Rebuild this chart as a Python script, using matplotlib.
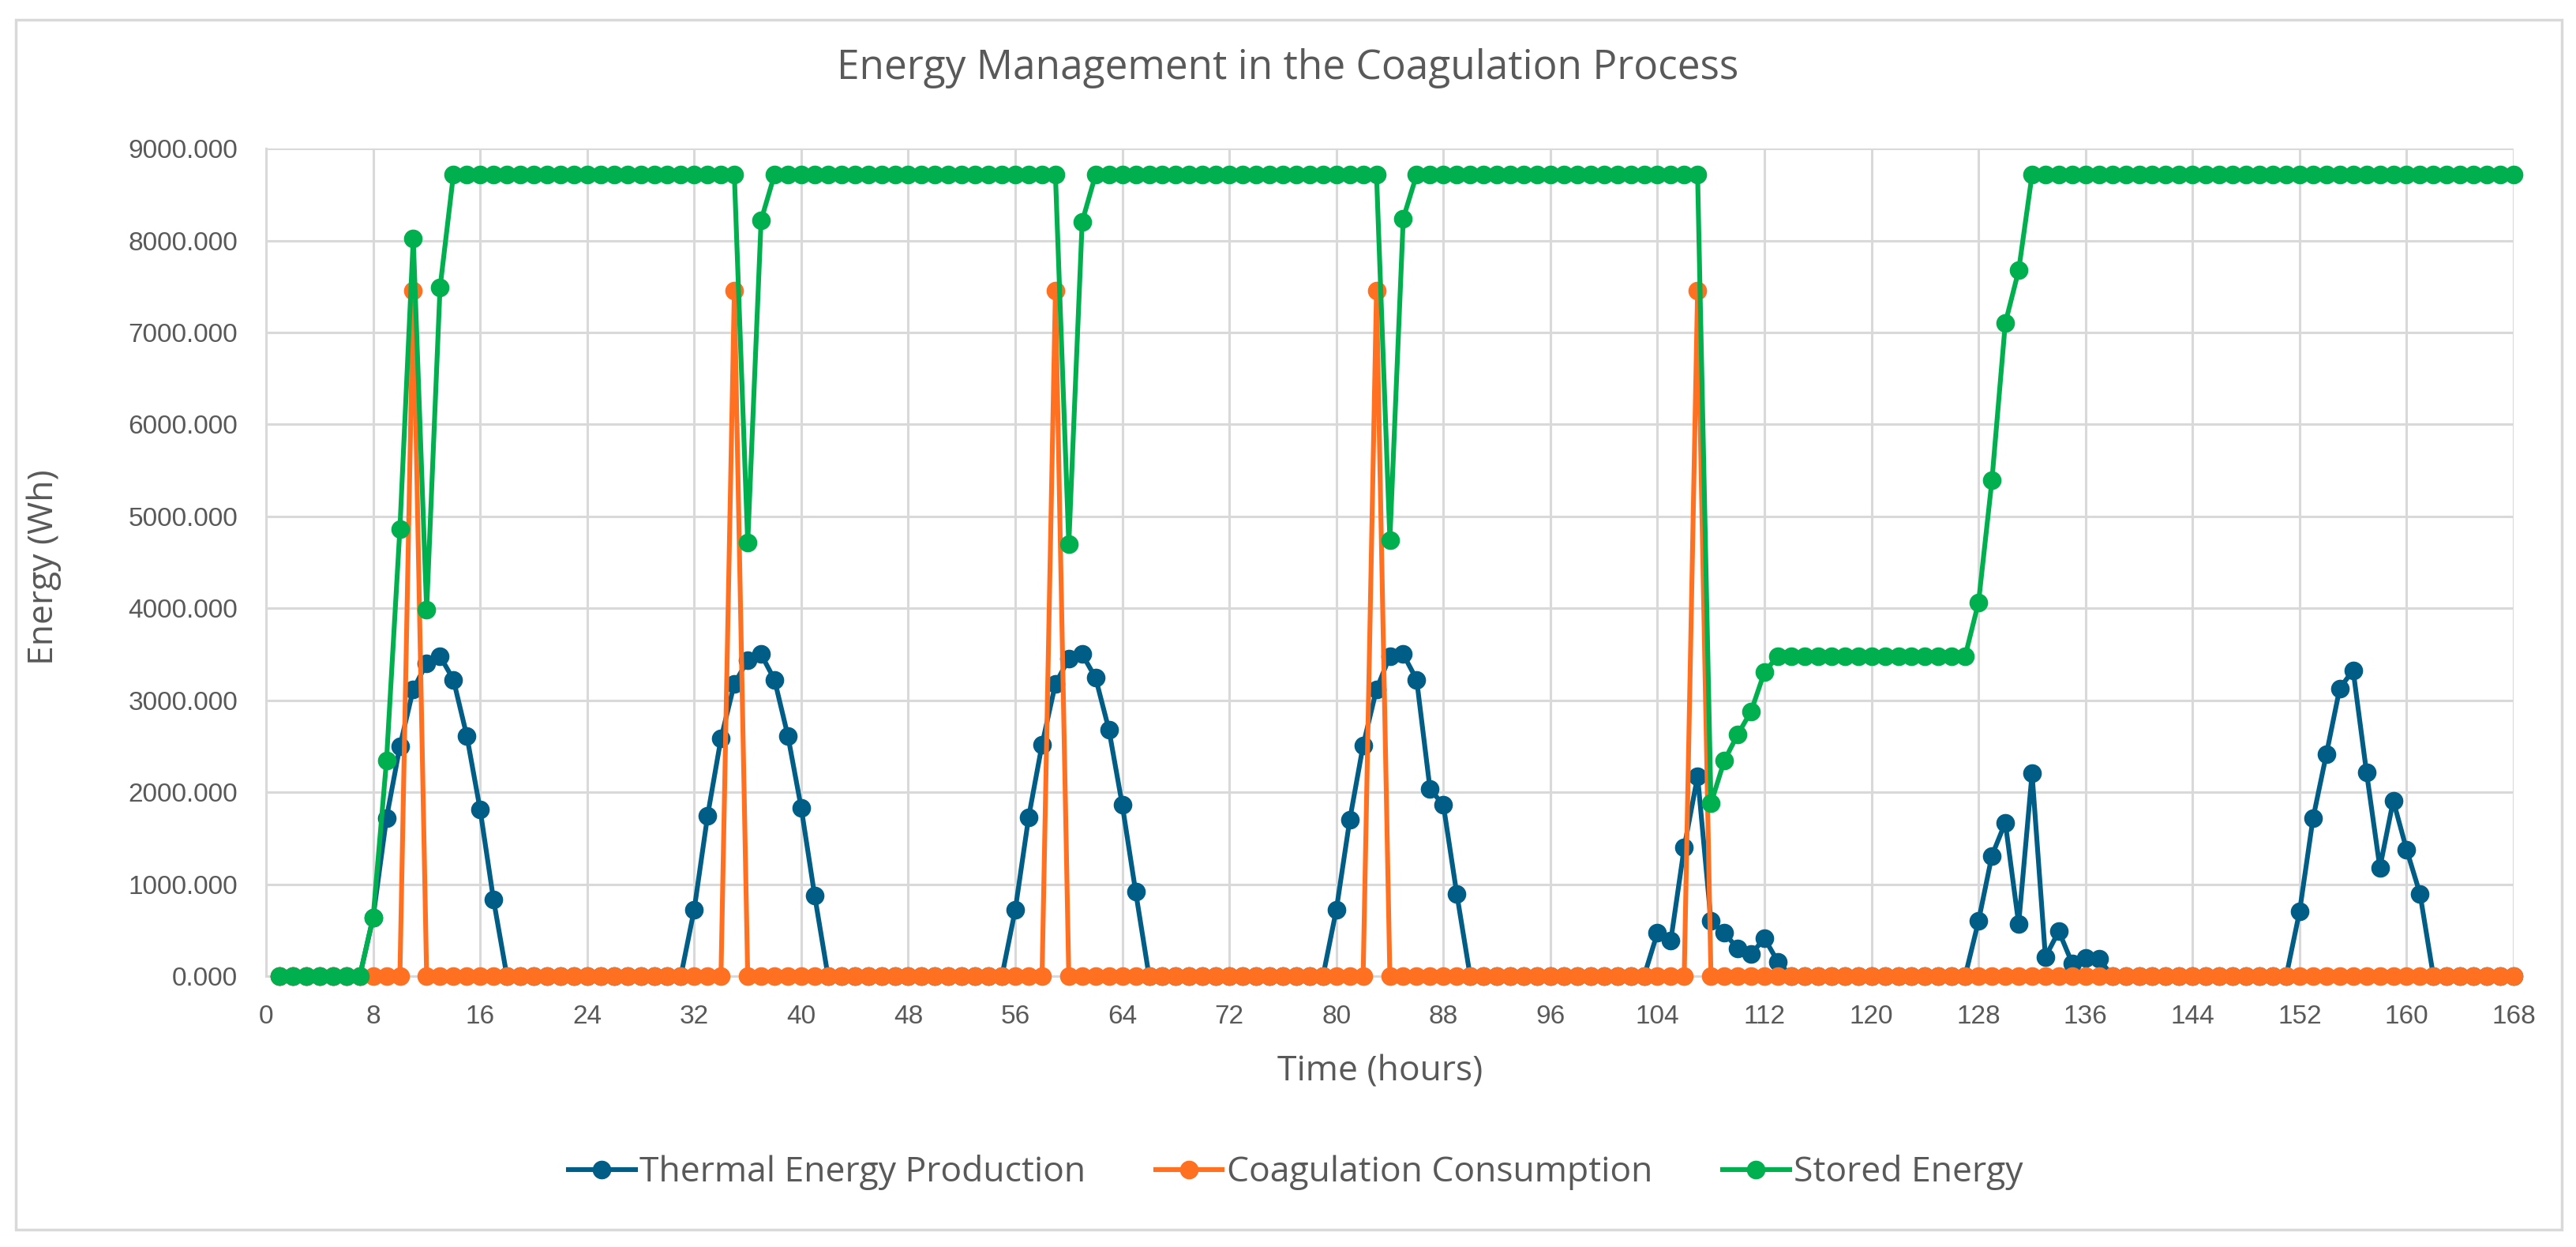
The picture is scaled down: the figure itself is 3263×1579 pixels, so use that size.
import matplotlib.pyplot as plt
from matplotlib.patches import Rectangle
from matplotlib.ticker import MultipleLocator, FormatStrFormatter

# hours 1..168, one row per day
hours = list(range(1, 169))

thermal = [
    0, 0, 0, 0, 0, 0, 0, 640, 1720, 2500, 3120, 3400, 3480, 3225, 2615, 1810, 830, 0, 0, 0, 0, 0, 0, 0,
    0, 0, 0, 0, 0, 0, 0, 725, 1745, 2585, 3180, 3435, 3500, 3225, 2615, 1830, 880, 0, 0, 0, 0, 0, 0, 0,
    0, 0, 0, 0, 0, 0, 0, 725, 1730, 2520, 3180, 3450, 3500, 3245, 2680, 1860, 915, 0, 0, 0, 0, 0, 0, 0,
    0, 0, 0, 0, 0, 0, 0, 725, 1700, 2510, 3120, 3480, 3500, 3225, 2035, 1860, 895, 0, 0, 0, 0, 0, 0, 0,
    0, 0, 0, 0, 0, 0, 0, 473, 390, 1400, 2175, 600, 470, 300, 240, 410, 158, 0, 0, 0, 0, 0, 0, 0,
    0, 0, 0, 0, 0, 0, 0, 600, 1310, 1670, 567, 2205, 208, 490, 140, 200, 190, 0, 0, 0, 0, 0, 0, 0,
    0, 0, 0, 0, 0, 0, 0, 705, 1714, 2413, 3130, 3327, 2218, 1178, 1910, 1374, 895, 0, 0, 0, 0, 0, 0, 0,
]

coagulation = [
    0, 0, 0, 0, 0, 0, 0, 0, 0, 0, 7455, 0, 0, 0, 0, 0, 0, 0, 0, 0, 0, 0, 0, 0,
    0, 0, 0, 0, 0, 0, 0, 0, 0, 0, 7455, 0, 0, 0, 0, 0, 0, 0, 0, 0, 0, 0, 0, 0,
    0, 0, 0, 0, 0, 0, 0, 0, 0, 0, 7455, 0, 0, 0, 0, 0, 0, 0, 0, 0, 0, 0, 0, 0,
    0, 0, 0, 0, 0, 0, 0, 0, 0, 0, 7455, 0, 0, 0, 0, 0, 0, 0, 0, 0, 0, 0, 0, 0,
    0, 0, 0, 0, 0, 0, 0, 0, 0, 0, 7455, 0, 0, 0, 0, 0, 0, 0, 0, 0, 0, 0, 0, 0,
    0, 0, 0, 0, 0, 0, 0, 0, 0, 0, 0, 0, 0, 0, 0, 0, 0, 0, 0, 0, 0, 0, 0, 0,
    0, 0, 0, 0, 0, 0, 0, 0, 0, 0, 0, 0, 0, 0, 0, 0, 0, 0, 0, 0, 0, 0, 0, 0,
]

stored = [
    0, 0, 0, 0, 0, 0, 0, 640, 2345, 4865, 8020, 3982, 7485, 8715, 8715, 8715, 8715, 8715, 8715, 8715, 8715, 8715, 8715, 8715,
    8715, 8715, 8715, 8715, 8715, 8715, 8715, 8715, 8715, 8715, 8715, 4713, 8220, 8715, 8715, 8715, 8715, 8715, 8715, 8715, 8715, 8715, 8715, 8715,
    8715, 8715, 8715, 8715, 8715, 8715, 8715, 8715, 8715, 8715, 8715, 4695, 8205, 8715, 8715, 8715, 8715, 8715, 8715, 8715, 8715, 8715, 8715, 8715,
    8715, 8715, 8715, 8715, 8715, 8715, 8715, 8715, 8715, 8715, 8715, 4745, 8240, 8715, 8715, 8715, 8715, 8715, 8715, 8715, 8715, 8715, 8715, 8715,
    8715, 8715, 8715, 8715, 8715, 8715, 8715, 8715, 8715, 8715, 8715, 1878, 2345, 2628, 2880, 3308, 3480, 3480, 3480, 3480, 3480, 3480, 3480, 3480,
    3480, 3480, 3480, 3480, 3480, 3480, 3480, 4065, 5390, 7100, 7675, 8715, 8715, 8715, 8715, 8715, 8715, 8715, 8715, 8715, 8715, 8715, 8715, 8715,
    8715, 8715, 8715, 8715, 8715, 8715, 8715, 8715, 8715, 8715, 8715, 8715, 8715, 8715, 8715, 8715, 8715, 8715, 8715, 8715, 8715, 8715, 8715, 8715,
]

series_names = ['Thermal Energy Production', 'Coagulation Consumption', 'Stored Energy']
colors = ['#005D86', '#FF7021', '#00B04F']

TEXT = '#595959'
GRID = '#D9D9D9'
LABEL_FONT = ['Open Sans', 'DejaVu Sans']
TICK_FONT = ['Liberation Sans', 'DejaVu Sans']

fig = plt.figure(figsize=(32.63, 15.79), dpi=100)
ax = fig.add_axes([0.1033, 0.2172, 0.8725, 0.6637])

# chart frame
fig.patches.append(Rectangle((0.0061, 0.0139), 0.9884, 0.9703, transform=fig.transFigure,
                             fill=False, edgecolor=GRID, linewidth=2.5, zorder=0))

for y, name, c in zip([thermal, coagulation, stored], series_names, colors):
    ax.plot(hours, y, color=c, linewidth=4.4, marker='o', markersize=16,
            label=name, clip_on=False, zorder=3)

ax.set_xlim(0, 168)
ax.set_ylim(0, 9000)
ax.xaxis.set_major_locator(MultipleLocator(8))
ax.yaxis.set_major_locator(MultipleLocator(1000))
ax.yaxis.set_major_formatter(FormatStrFormatter('%.3f'))
ax.grid(True, color=GRID, linewidth=2.2)
ax.set_axisbelow(True)
for s in ['top', 'right']:
    ax.spines[s].set_visible(False)
for s in ['left', 'bottom']:
    ax.spines[s].set_color(GRID)
    ax.spines[s].set_linewidth(2.2)
ax.tick_params(length=0, pad=26, labelsize=24, labelcolor=TEXT)
for lab in ax.get_xticklabels() + ax.get_yticklabels():
    lab.set_family(TICK_FONT)

fig.text(0.4999, 0.945, 'Energy Management in the Coagulation Process', ha='center', va='center',
         fontsize=37, color=TEXT, family=LABEL_FONT)
fig.text(0.5357, 0.1406, 'Time (hours)', ha='center', va='center',
         fontsize=32, color=TEXT, family=LABEL_FONT)
fig.text(0.0172, 0.545, 'Energy (Wh)', ha='center', va='center', rotation=90,
         fontsize=32, color=TEXT, family=LABEL_FONT)

handles, labels = ax.get_legend_handles_labels()
leg = fig.legend(handles, labels, loc='center', bbox_to_anchor=(0.503, 0.0596), ncol=3,
                 frameon=False, handlelength=1.9, handletextpad=0.12, columnspacing=2.0,
                 prop={'family': LABEL_FONT, 'size': 32})
for t in leg.get_texts():
    t.set_color(TEXT)

fig.savefig('out.png', dpi=100)
